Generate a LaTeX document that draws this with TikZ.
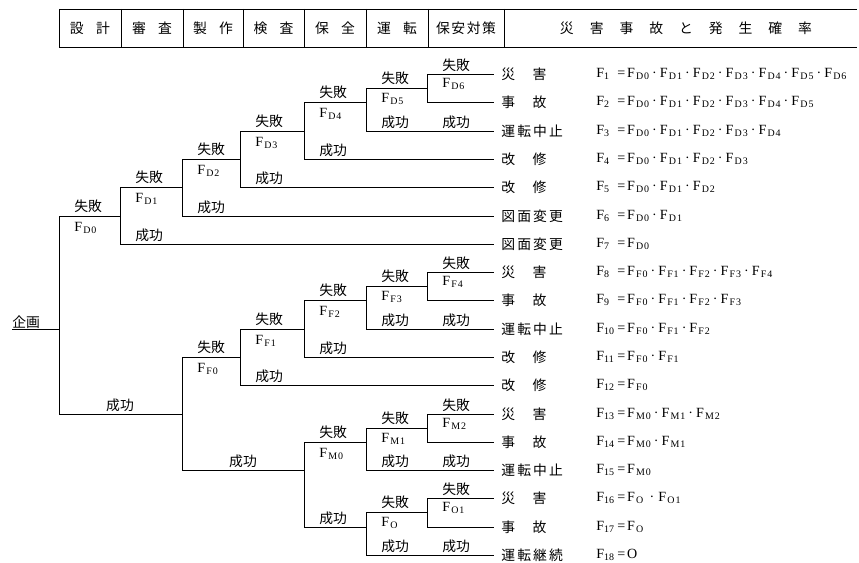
\documentclass[tikz,border=0pt]{standalone}
\usepackage{fontspec}
\setmainfont{Liberation Serif}
\newfontfamily\jp{Noto Sans CJK JP}
\usetikzlibrary{positioning}

\newcommand\sub[1]{\raisebox{-.2ex}{\fontsize{8.5}{9}\selectfont #1}}
\newcommand\Fx[2]{F\kern1pt\sub{#1\kern.8pt#2}}
\newcommand\Fn[1]{\makebox[0.63cm][l]{F\sub{#1}}=\kern1.5pt}
\newcommand\dt{\kern2.6pt·\kern2.6pt}

\begin{document}
\begin{tikzpicture}[x=0.03cm, y=-0.03cm, line width=0.6pt,
    jtext/.style={font=\jp\fontsize{11.8}{13}\selectfont, inner sep=0pt},
    lbl/.style={jtext, anchor=west},
    flbl/.style={font=\fontsize{12}{13}\selectfont, inner sep=0pt, anchor=west},
    outcome/.style={jtext, anchor=west, inner xsep=0.21cm},
    prob/.style={flbl}]
    \useasboundingbox (0,0) rectangle (859,563);

    \draw (59,9) -- (857,9) (59,47) -- (857,47);
    \foreach \x in {59,121,183,243,304,366,428,504} \draw (\x,9) -- (\x,47);
    \node[jtext] (hdesign) at (90,28) {\makebox[1.2cm][s]{設\hfill 計}};
    \node[jtext] (hreview) at (152,28) {\makebox[1.2cm][s]{審\hfill 査}};
    \node[jtext] (hmake) at (213,28) {\makebox[1.2cm][s]{製\hfill 作}};
    \node[jtext] (hcheck) at (273.5,28) {\makebox[1.2cm][s]{検\hfill 査}};
    \node[jtext] (hmaint) at (335,28) {\makebox[1.2cm][s]{保\hfill 全}};
    \node[jtext] (hrun) at (397,28) {\makebox[1.2cm][s]{運\hfill 転}};
    \node[jtext] (hsafe) at (466,28) {\makebox[1.8cm][s]{保\hfill 安\hfill 対\hfill 策}};
    \node[jtext] (hresult) at (686,28) {\makebox[7.56cm][s]{災\hfill 害\hfill 事\hfill 故\hfill と\hfill 発\hfill 生\hfill 確\hfill 率}};

    \node[jtext, anchor=south west] (plan) at (12,329) {企画};
    \coordinate (root) at (59,329);
    \coordinate (pD0) at (120,216);
    \coordinate (pD1) at (182,187);
    \coordinate (pD2) at (240,159);
    \coordinate (pD3) at (304,131);
    \coordinate (pD4) at (366,102);
    \coordinate (pD5) at (427,88);
    \coordinate (pS1) at (182,414);
    \coordinate (pF0) at (240,357);
    \coordinate (pF1) at (304,329);
    \coordinate (pF2) at (366,300);
    \coordinate (pF3) at (427,286);
    \coordinate (pS2) at (304,470);
    \coordinate (pM0) at (366,442);
    \coordinate (pM1) at (427,428);
    \coordinate (pS3) at (366,527);
    \coordinate (pO) at (427,512);

    \node[outcome] (o1) at (494,74) {\makebox[1.35cm][s]{災\hfill 害}};
    \node[outcome] (o2) at (494,102) {\makebox[1.35cm][s]{事\hfill 故}};
    \node[outcome] (o3) at (494,131) {\makebox[1.85cm][s]{運\hfill 転\hfill 中\hfill 止}};
    \node[outcome] (o4) at (494,159) {\makebox[1.35cm][s]{改\hfill 修}};
    \node[outcome] (o5) at (494,187) {\makebox[1.35cm][s]{改\hfill 修}};
    \node[outcome] (o6) at (494,216) {\makebox[1.85cm][s]{図\hfill 面\hfill 変\hfill 更}};
    \node[outcome] (o7) at (494,244) {\makebox[1.85cm][s]{図\hfill 面\hfill 変\hfill 更}};
    \node[outcome] (o8) at (494,272) {\makebox[1.35cm][s]{災\hfill 害}};
    \node[outcome] (o9) at (494,300) {\makebox[1.35cm][s]{事\hfill 故}};
    \node[outcome] (o10) at (494,329) {\makebox[1.85cm][s]{運\hfill 転\hfill 中\hfill 止}};
    \node[outcome] (o11) at (494,357) {\makebox[1.35cm][s]{改\hfill 修}};
    \node[outcome] (o12) at (494,385) {\makebox[1.35cm][s]{改\hfill 修}};
    \node[outcome] (o13) at (494,414) {\makebox[1.35cm][s]{災\hfill 害}};
    \node[outcome] (o14) at (494,442) {\makebox[1.35cm][s]{事\hfill 故}};
    \node[outcome] (o15) at (494,470) {\makebox[1.85cm][s]{運\hfill 転\hfill 中\hfill 止}};
    \node[outcome] (o16) at (494,498) {\makebox[1.35cm][s]{災\hfill 害}};
    \node[outcome] (o17) at (494,527) {\makebox[1.35cm][s]{事\hfill 故}};
    \node[outcome] (o18) at (494,555) {\makebox[1.85cm][s]{運\hfill 転\hfill 継\hfill 続}};

    \node[prob] (f1) at (596,74) {\Fn{1}\Fx D0\dt\Fx D1\dt\Fx D2\dt\Fx D3\dt\Fx D4\dt\Fx D5\dt\Fx D6};
    \node[prob] (f2) at (596,102) {\Fn{2}\Fx D0\dt\Fx D1\dt\Fx D2\dt\Fx D3\dt\Fx D4\dt\Fx D5};
    \node[prob] (f3) at (596,131) {\Fn{3}\Fx D0\dt\Fx D1\dt\Fx D2\dt\Fx D3\dt\Fx D4};
    \node[prob] (f4) at (596,159) {\Fn{4}\Fx D0\dt\Fx D1\dt\Fx D2\dt\Fx D3};
    \node[prob] (f5) at (596,187) {\Fn{5}\Fx D0\dt\Fx D1\dt\Fx D2};
    \node[prob] (f6) at (596,216) {\Fn{6}\Fx D0\dt\Fx D1};
    \node[prob] (f7) at (596,244) {\Fn{7}\Fx D0};
    \node[prob] (f8) at (596,272) {\Fn{8}\Fx F0\dt\Fx F1\dt\Fx F2\dt\Fx F3\dt\Fx F4};
    \node[prob] (f9) at (596,300) {\Fn{9}\Fx F0\dt\Fx F1\dt\Fx F2\dt\Fx F3};
    \node[prob] (f10) at (596,329) {\Fn{10}\Fx F0\dt\Fx F1\dt\Fx F2};
    \node[prob] (f11) at (596,357) {\Fn{11}\Fx F0\dt\Fx F1};
    \node[prob] (f12) at (596,385) {\Fn{12}\Fx F0};
    \node[prob] (f13) at (596,414) {\Fn{13}\Fx M0\dt\Fx M1\dt\Fx M2};
    \node[prob] (f14) at (596,442) {\Fn{14}\Fx M0\dt\Fx M1};
    \node[prob] (f15) at (596,470) {\Fn{15}\Fx M0};
    \node[prob] (f16) at (596,498) {\Fn{16}\Fx O{}\kern2pt\dt\kern1pt\Fx O1};
    \node[prob] (f17) at (596,527) {\Fn{17}\Fx O{}};
    \node[prob] (f18) at (596,555) {\Fn{18}O};

    \draw (plan.south west) -- (root);
    \draw (root) |- (pD0);
    \draw (root) |- (pS1);
    \draw (pD0) |- (pD1);
    \draw (pD0) |- (o7.west);
    \draw (pD1) |- (pD2);
    \draw (pD1) |- (o6.west);
    \draw (pD2) |- (pD3);
    \draw (pD2) |- (o5.west);
    \draw (pD3) |- (pD4);
    \draw (pD3) |- (o4.west);
    \draw (pD4) |- (pD5);
    \draw (pD4) |- (o3.west);
    \draw (pD5) |- (o1.west);
    \draw (pD5) |- (o2.west);
    \draw (pS1) |- (pF0);
    \draw (pS1) |- (pS2);
    \draw (pF0) |- (pF1);
    \draw (pF0) |- (o12.west);
    \draw (pF1) |- (pF2);
    \draw (pF1) |- (o11.west);
    \draw (pF2) |- (pF3);
    \draw (pF2) |- (o10.west);
    \draw (pF3) |- (o8.west);
    \draw (pF3) |- (o9.west);
    \draw (pS2) |- (pM0);
    \draw (pS2) |- (pS3);
    \draw (pM0) |- (pM1);
    \draw (pM0) |- (o15.west);
    \draw (pM1) |- (o13.west);
    \draw (pM1) |- (o14.west);
    \draw (pS3) |- (pO);
    \draw (pS3) |- (o18.west);
    \draw (pO) |- (o16.west);
    \draw (pO) |- (o17.west);

    \node[lbl] (nD0) at (74,206) {失敗};      \node[flbl] (lD0) at (74,228) {\Fx D0};
    \node[lbl] (nD1) at (135,177) {失敗};     \node[flbl] (lD1) at (135,199) {\Fx D1};
    \node[lbl] (nD2) at (197,149) {失敗};     \node[flbl] (lD2) at (197,171) {\Fx D2};
    \node[lbl] (nD3) at (255,121) {失敗};     \node[flbl] (lD3) at (255,143) {\Fx D3};
    \node[lbl] (nD4) at (319,92) {失敗};      \node[flbl] (lD4) at (319,114) {\Fx D4};
    \node[lbl] (nD5) at (381,78) {失敗};      \node[flbl] (lD5) at (381,99) {\Fx D5};
    \node[lbl] (nD6) at (442,65) {失敗};      \node[flbl] (lD6) at (442,84) {\Fx D6};
    \node[lbl] (nF0) at (197,347) {失敗};     \node[flbl] (lF0) at (197,369) {\Fx F0};
    \node[lbl] (nF1) at (255,319) {失敗};     \node[flbl] (lF1) at (255,341) {\Fx F1};
    \node[lbl] (nF2) at (319,290) {失敗};     \node[flbl] (lF2) at (319,312) {\Fx F2};
    \node[lbl] (nF3) at (381,276) {失敗};     \node[flbl] (lF3) at (381,297) {\Fx F3};
    \node[lbl] (nF4) at (442,263) {失敗};     \node[flbl] (lF4) at (442,282) {\Fx F4};
    \node[lbl] (nM0) at (319,432) {失敗};     \node[flbl] (lM0) at (319,454) {\Fx M0};
    \node[lbl] (nM1) at (381,418) {失敗};     \node[flbl] (lM1) at (381,439) {\Fx M1};
    \node[lbl] (nM2) at (442,405) {失敗};     \node[flbl] (lM2) at (442,424) {\Fx M2};
    \node[lbl] (nO) at (381,502) {失敗};      \node[flbl] (lO) at (381,523) {\Fx O{}};
    \node[lbl] (nO1) at (442,489) {失敗};     \node[flbl] (lO1) at (442,508) {\Fx O1};

    \node[jtext] (s1) at (120,405) {成功};
    \node[lbl] (s2) at (135,235) {成功};
    \node[lbl] (s3) at (197,207) {成功};
    \node[lbl] (s4) at (255,178) {成功};
    \node[lbl] (s5) at (319,150) {成功};
    \node[lbl] (s6) at (381,122) {成功};
    \node[lbl] (s7) at (442,122) {成功};
    \node[jtext] (s8) at (243,461) {成功};
    \node[lbl] (s9) at (255,376) {成功};
    \node[lbl] (s10) at (319,348) {成功};
    \node[lbl] (s11) at (381,320) {成功};
    \node[lbl] (s12) at (442,320) {成功};
    \node[lbl] (s13) at (319,518) {成功};
    \node[lbl] (s14) at (381,461) {成功};
    \node[lbl] (s15) at (442,461) {成功};
    \node[lbl] (s16) at (381,546) {成功};
    \node[lbl] (s17) at (442,546) {成功};
\end{tikzpicture}
\end{document}
